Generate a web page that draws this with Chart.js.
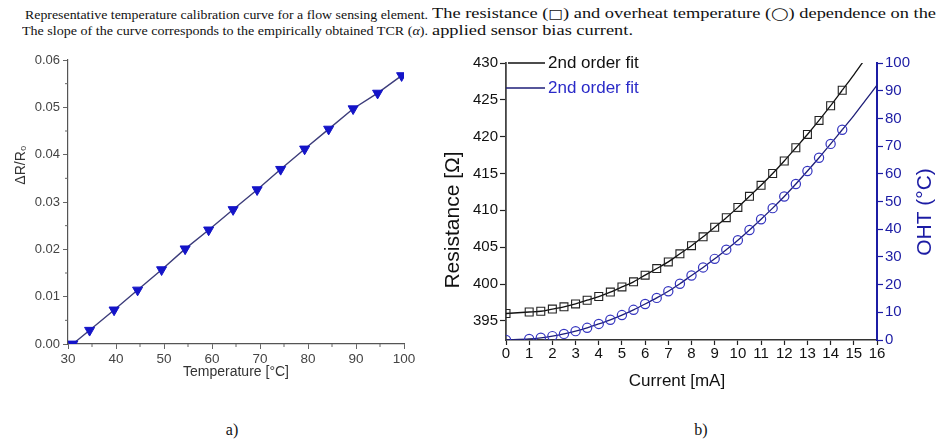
<!DOCTYPE html>
<html><head><meta charset="utf-8">
<script src="https://cdn.jsdelivr.net/npm/chart.js@4/dist/chart.umd.min.js"></script>
<style>
html,body{margin:0;padding:0;background:#fff;}
body{width:941px;height:445px;position:relative;overflow:hidden;font-family:"Liberation Serif","Times New Roman",serif;color:#111;}
.cap{position:absolute;white-space:nowrap;display:inline-block;transform-origin:0 50%;}
.sym{font-family:"DejaVu Sans",sans-serif;font-size:0.85em;}
canvas{position:absolute;top:0;}
.lab{position:absolute;top:420px;font-size:16px;width:40px;text-align:center;line-height:20px;}
</style></head>
<body>
<div class="cap" data-w="403" style="left:25px;top:7px;font-size:13px;line-height:16px;">Representative temperature calibration curve for a flow sensing element.</div>
<div class="cap" data-w="406" style="left:22px;top:23px;font-size:13px;line-height:16px;">The slope of the curve corresponds to the empirically obtained TCR (<i>α</i>).</div>
<div class="cap" data-w="504" id="cb1" style="left:432px;top:5px;font-size:15px;line-height:17px;">The resistance (<span class="sym">□</span>) and overheat temperature (<span class="sym">◯</span>) dependence on the</div>
<div class="cap" data-same="cb1" style="left:432px;top:22px;font-size:15px;line-height:17px;">applied sensor bias current.</div>
<canvas id="ca" width="440" height="400" style="left:0;"></canvas>
<canvas id="cb" width="501" height="400" style="left:440px;"></canvas>
<div class="lab" style="left:212px;">a)</div>
<div class="lab" style="left:681px;">b)</div>
<script>
// ---------- Chart a data ----------
const tempC = [31, 34.5, 39.6, 44.5, 49.5, 54.4, 59.3, 64.4, 69.4, 74.3, 79.3, 84.3, 89.4, 94.5, 99.5];
const dRR0  = [0.0000, 0.0029, 0.0072, 0.0114, 0.0157, 0.0201, 0.0241, 0.0284, 0.0326, 0.0369, 0.0412, 0.0454, 0.0497, 0.0530, 0.0567];
const tempTicks = [30, 40, 50, 60, 70, 80, 90, 100];
const dRTicks = [0, 0.01, 0.02, 0.03, 0.04, 0.05, 0.06];

// ---------- Chart b data ----------
const currentR = [0, 1, 1.5, 2, 2.5, 3, 3.5, 4, 4.5, 5, 5.5, 6, 6.5, 7, 7.5, 8, 8.5, 9, 9.5, 10, 10.5, 11, 11.5, 12, 12.5, 13, 13.5, 14, 14.5];
const resistance = [396.0, 396.2, 396.3, 396.6, 396.9, 397.3, 397.8, 398.3, 398.9, 399.6, 400.3, 401.2, 402.1, 403.0, 404.1, 405.2, 406.4, 407.7, 409.0, 410.4, 411.9, 413.4, 415.0, 416.7, 418.5, 420.3, 422.2, 424.2, 426.3];
const currentT = [0, 1, 1.5, 2, 2.5, 3, 3.5, 4, 4.5, 5, 5.5, 6, 6.5, 7, 7.5, 8, 8.5, 9, 9.5, 10, 10.5, 11, 11.5, 12, 12.5, 13, 13.5, 14, 14.5];
const ohtC = [0.0, 0.4, 0.8, 1.4, 2.2, 3.2, 4.4, 5.8, 7.3, 9.0, 10.9, 13.0, 15.2, 17.6, 20.3, 23.3, 26.2, 29.3, 32.6, 36.0, 39.7, 43.6, 47.6, 51.8, 56.3, 61.0, 65.8, 70.8, 75.9];
const resFitTailI = [14.5, 15, 15.5];
const resFitTailR = [426.3, 428.4, 430.6];
const ohtFitTailI = [14.5, 15, 15.5, 16];
const ohtFitTailT = [75.9, 81.0, 86.5, 92.0];
const currentTicks = [0, 1, 2, 3, 4, 5, 6, 7, 8, 9, 10, 11, 12, 13, 14, 15, 16];
const resTicks = [395, 400, 405, 410, 415, 420, 425, 430];
const ohtTicks = [0, 10, 20, 30, 40, 50, 60, 70, 80, 90, 100];
const fitLabel = '2nd order fit';

// fit caption widths (horizontal stretch only)
const scales = {};
document.querySelectorAll('.cap[data-w]').forEach(el => {
  const s = (+el.dataset.w) / el.getBoundingClientRect().width;
  scales[el.id || ''] = s;
  el.style.transform = 'scaleX(' + s + ')';
});
document.querySelectorAll('.cap[data-same]').forEach(el => {
  el.style.transform = 'scaleX(' + scales[el.dataset.same] + ')';
});

const pts = (xs, ys) => xs.map((x, i) => ({x: x, y: ys[i]}));
const SANS = 'Liberation Sans, Arial, sans-serif';

const freeText = {
  id: 'freeText',
  afterDraw(chart, args, opts) {
    const ctx = chart.ctx;
    (opts.items || []).forEach(it => {
      ctx.save();
      ctx.font = it.font; ctx.fillStyle = it.color || '#111';
      ctx.textAlign = it.align || 'center'; ctx.textBaseline = 'middle';
      ctx.translate(it.x, it.y); if (it.rot) ctx.rotate(it.rot);
      ctx.fillText(it.text, 0, 0);
      ctx.restore();
    });
  }
};

const minorTicks = {
  id: 'minorTicks',
  afterDraw(chart, args, opts) {
    if (!opts.x) return;
    const ctx = chart.ctx, xs = chart.scales.x, ys = chart.scales.y, a = chart.chartArea;
    ctx.save(); ctx.strokeStyle = opts.color; ctx.lineWidth = 1;
    opts.x.forEach(v => { const p = xs.getPixelForValue(v); ctx.beginPath(); ctx.moveTo(p, a.bottom); ctx.lineTo(p, a.bottom + 3); ctx.stroke(); });
    opts.y.forEach(v => { const p = ys.getPixelForValue(v); ctx.beginPath(); ctx.moveTo(a.left - 3, p); ctx.lineTo(a.left, p); ctx.stroke(); });
    ctx.restore();
  }
};

const innerLegend = {
  id: 'innerLegend',
  afterDraw(chart, args, opts) {
    if (!opts.items) return;
    const ctx = chart.ctx;
    opts.items.forEach(it => {
      const ds = chart.data.datasets[it.ds];
      ctx.save();
      ctx.strokeStyle = ds.borderColor; ctx.lineWidth = 1.4;
      ctx.beginPath(); ctx.moveTo(it.x1, it.y); ctx.lineTo(it.x2, it.y); ctx.stroke();
      ctx.font = opts.font; ctx.fillStyle = it.color; ctx.textAlign = 'left'; ctx.textBaseline = 'middle';
      ctx.fillText(ds.label, it.x2 + 3, it.y);
      ctx.restore();
    });
  }
};

// ---------- Chart a ----------
new Chart(document.getElementById('ca'), {
  type: 'scatter',
  data: { datasets: [{
    label: 'ΔR/R₀',
    data: pts(tempC, dRR0),
    showLine: true, tension: 0,
    borderColor: '#3c3c7a', borderWidth: 1.4,
    pointStyle: 'triangle', pointRotation: 180, pointRadius: 5.8,
    pointBackgroundColor: '#1414c8', pointBorderColor: '#1414c8', pointBorderWidth: 1
  }]},
  options: {
    responsive: false, animation: false, devicePixelRatio: 1,
    layout: { padding: { top: 60, right: 36, bottom: 0, left: 0 } },
    plugins: {
      legend: { display: false }, tooltip: { enabled: false },
      minorTicks: { color: '#666', x: [35, 45, 55, 65, 75, 85, 95], y: [0.005, 0.015, 0.025, 0.035, 0.045, 0.055] },
      freeText: { items: [
        { text: 'Temperature [°C]', x: 236, y: 372, font: '14px ' + SANS, color: '#333' },
        { text: 'ΔR/R₀', x: 21, y: 165, rot: -Math.PI / 2, font: '14px ' + SANS, color: '#333' }
      ]}
    },
    scales: {
      x: {
        type: 'linear', min: 30, max: 100,
        afterBuildTicks: s => { s.ticks = tempTicks.map(v => ({ value: v })); },
        ticks: { font: { family: SANS, size: 13.5 }, color: '#444', padding: 2, maxRotation: 0, autoSkip: false },
        grid: { drawOnChartArea: false, tickLength: 5, color: '#666' },
        border: { color: '#555', width: 1.2 },
        afterFit: s => { s.height = 56; }
      },
      y: {
        min: 0, max: 0.06,
        afterBuildTicks: s => { s.ticks = dRTicks.map(v => ({ value: v })); },
        ticks: { font: { family: SANS, size: 13 }, color: '#444', padding: 3, callback: v => Number(v).toFixed(2) },
        grid: { drawOnChartArea: false, tickLength: 5, color: '#666' },
        border: { color: '#555', width: 1.2 },
        afterFit: s => { s.width = 68; }
      }
    }
  },
  plugins: [freeText, minorTicks]
});

// ---------- Chart b ----------
const BLUE = '#1c1ca4';
new Chart(document.getElementById('cb'), {
  type: 'scatter',
  data: { datasets: [
    { label: fitLabel, data: pts(currentR, resistance), yAxisID: 'y',
      showLine: true, tension: 0.3, borderColor: '#111', borderWidth: 1.3,
      pointStyle: 'rect', pointRadius: 5.6, pointBorderColor: '#222', pointBorderWidth: 1.1,
      pointBackgroundColor: 'rgba(0,0,0,0)' },
    { label: fitLabel, data: pts(currentT, ohtC), yAxisID: 'y2',
      showLine: true, tension: 0.3, borderColor: '#1e1e78', borderWidth: 1.3,
      pointStyle: 'circle', pointRadius: 4.6, pointBorderColor: '#3535c0', pointBorderWidth: 1.2,
      pointBackgroundColor: 'rgba(0,0,0,0)' },
    { label: 'tailR', data: pts(resFitTailI, resFitTailR), yAxisID: 'y',
      showLine: true, tension: 0.3, borderColor: '#111', borderWidth: 1.3, pointRadius: 0 },
    { label: 'tailT', data: pts(ohtFitTailI, ohtFitTailT), yAxisID: 'y2',
      showLine: true, tension: 0.3, borderColor: '#1e1e78', borderWidth: 1.3, pointRadius: 0 }
  ]},
  options: {
    responsive: false, animation: false, devicePixelRatio: 1,
    layout: { padding: { top: 63, right: 0, bottom: 0, left: 0 } },
    plugins: {
      legend: { display: false }, tooltip: { enabled: false },
      innerLegend: { font: '17px ' + SANS, items: [
        { ds: 0, x1: 68, x2: 105, y: 63, color: '#111' },
        { ds: 1, x1: 66, x2: 105, y: 88, color: '#2a2ac8' }
      ]},
      freeText: { items: [
        { text: 'Current [mA]', x: 237, y: 381, font: '17px ' + SANS, color: '#111' },
        { text: 'Resistance [Ω]', x: 13, y: 220, rot: -Math.PI / 2, font: '21px ' + SANS, color: '#111' },
        { text: 'OHT (°C)', x: 485, y: 212, rot: -Math.PI / 2, font: '21px ' + SANS, color: BLUE }
      ]}
    },
    scales: {
      x: {
        type: 'linear', min: 0, max: 16,
        afterBuildTicks: s => { s.ticks = currentTicks.map(v => ({ value: v })); },
        ticks: { font: { family: SANS, size: 15 }, color: '#111', padding: 0, maxRotation: 0, autoSkip: false },
        grid: { drawOnChartArea: false, tickLength: 5, color: '#222', tickWidth: 1.2 },
        border: { color: '#333', width: 1.6 },
        afterFit: s => { s.height = 60; }
      },
      y: {
        position: 'left', min: 392.4, max: 430,
        afterBuildTicks: s => { s.ticks = resTicks.map(v => ({ value: v })); },
        ticks: { font: { family: SANS, size: 15 }, color: '#111', padding: 2 },
        grid: { drawOnChartArea: false, tickLength: 6, color: '#222', tickWidth: 1.2 },
        border: { color: '#444', width: 1.8 },
        afterFit: s => { s.width = 66; }
      },
      y2: {
        position: 'right', min: 0, max: 100,
        afterBuildTicks: s => { s.ticks = ohtTicks.map(v => ({ value: v })); },
        ticks: { font: { family: SANS, size: 15 }, color: BLUE, padding: 2 },
        grid: { drawOnChartArea: false, tickLength: 6, color: BLUE, tickWidth: 1.2 },
        border: { color: BLUE, width: 2 },
        afterFit: s => { s.width = 64; }
      }
    }
  },
  plugins: [freeText, innerLegend]
});
</script>
</body></html>
